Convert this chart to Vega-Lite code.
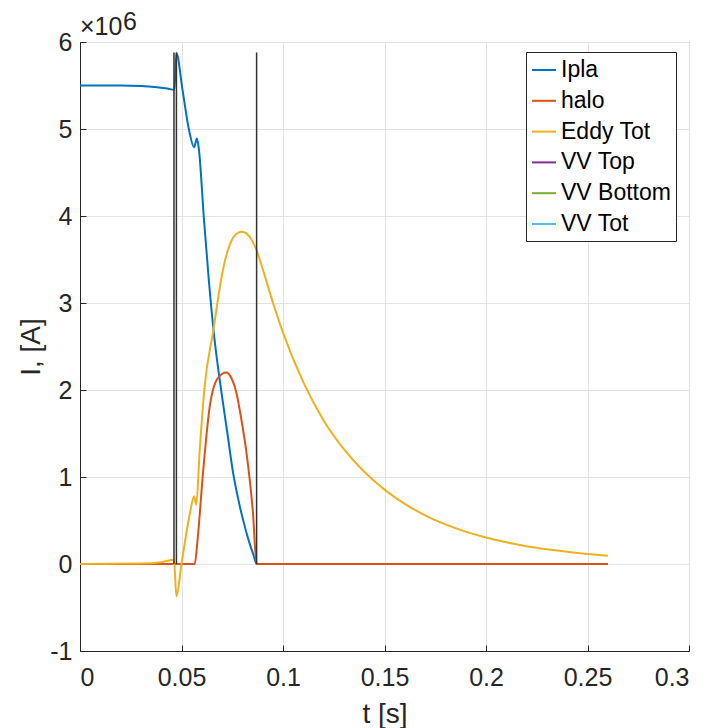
{
  "$schema": "https://vega.github.io/schema/vega-lite/v6.json",
  "width": 609,
  "height": 609,
  "autosize": "none",
  "padding": {"left": 80, "top": 42, "right": 22, "bottom": 77},
  "background": "white",
  "config": {
    "font": "Liberation Sans",
    "view": {"stroke": "#262626", "strokeWidth": 1},
    "axis": {
      "labelFont": "Liberation Sans",
      "titleFont": "Liberation Sans",
      "labelColor": "#262626",
      "titleColor": "#262626",
      "domainColor": "#262626",
      "tickColor": "#262626",
      "gridColor": "#e3e3e3",
      "gridWidth": 1,
      "labelFontSize": 25,
      "titleFontSize": 28,
      "titleFontWeight": "normal"
    }
  },
  "datasets": {
    "curves": [
      {"t": 0.0, "v": 5.50, "s": "Ipla"},
      {"t": 0.01, "v": 5.50, "s": "Ipla"},
      {"t": 0.02, "v": 5.50, "s": "Ipla"},
      {"t": 0.03, "v": 5.495, "s": "Ipla"},
      {"t": 0.038, "v": 5.48, "s": "Ipla"},
      {"t": 0.043, "v": 5.465, "s": "Ipla"},
      {"t": 0.0465, "v": 5.45, "s": "Ipla"},
      {"t": 0.0475, "v": 5.87, "s": "Ipla"},
      {"t": 0.0505, "v": 5.45, "s": "Ipla"},
      {"t": 0.0537, "v": 4.99, "s": "Ipla"},
      {"t": 0.0562, "v": 4.79, "s": "Ipla"},
      {"t": 0.0576, "v": 4.89, "s": "Ipla"},
      {"t": 0.0586, "v": 4.76, "s": "Ipla"},
      {"t": 0.061, "v": 3.98, "s": "Ipla"},
      {"t": 0.0635, "v": 3.25, "s": "Ipla"},
      {"t": 0.0659, "v": 2.66, "s": "Ipla"},
      {"t": 0.0697, "v": 1.97, "s": "Ipla"},
      {"t": 0.0725, "v": 1.52, "s": "Ipla"},
      {"t": 0.0754, "v": 1.05, "s": "Ipla"},
      {"t": 0.078, "v": 0.74, "s": "Ipla"},
      {"t": 0.0803, "v": 0.51, "s": "Ipla"},
      {"t": 0.0835, "v": 0.24, "s": "Ipla"},
      {"t": 0.0855, "v": 0.1, "s": "Ipla"},
      {"t": 0.0870, "v": 0.0, "s": "Ipla"},
      {"t": 0.26, "v": 0.0, "s": "Ipla"},
      {"t": 0.0, "v": 0.0, "s": "halo"},
      {"t": 0.0565, "v": 0.0, "s": "halo"},
      {"t": 0.058, "v": 0.3, "s": "halo"},
      {"t": 0.0606, "v": 1.05, "s": "halo"},
      {"t": 0.0639, "v": 1.81, "s": "halo"},
      {"t": 0.068, "v": 2.14, "s": "halo"},
      {"t": 0.0721, "v": 2.20, "s": "halo"},
      {"t": 0.0745, "v": 2.14, "s": "halo"},
      {"t": 0.077, "v": 1.97, "s": "halo"},
      {"t": 0.0795, "v": 1.66, "s": "halo"},
      {"t": 0.082, "v": 1.28, "s": "halo"},
      {"t": 0.0852, "v": 0.59, "s": "halo"},
      {"t": 0.0870, "v": 0.0, "s": "halo"},
      {"t": 0.26, "v": 0.0, "s": "halo"},
      {"t": 0.0, "v": 0.0, "s": "Eddy Tot"},
      {"t": 0.03, "v": 0.005, "s": "Eddy Tot"},
      {"t": 0.04, "v": 0.02, "s": "Eddy Tot"},
      {"t": 0.0463, "v": 0.05, "s": "Eddy Tot"},
      {"t": 0.0475, "v": -0.37, "s": "Eddy Tot"},
      {"t": 0.05, "v": 0.0, "s": "Eddy Tot"},
      {"t": 0.0542, "v": 0.59, "s": "Eddy Tot"},
      {"t": 0.0562, "v": 0.78, "s": "Eddy Tot"},
      {"t": 0.0573, "v": 0.68, "s": "Eddy Tot"},
      {"t": 0.0589, "v": 1.28, "s": "Eddy Tot"},
      {"t": 0.0614, "v": 2.04, "s": "Eddy Tot"},
      {"t": 0.0655, "v": 2.66, "s": "Eddy Tot"},
      {"t": 0.0704, "v": 3.38, "s": "Eddy Tot"},
      {"t": 0.073, "v": 3.62, "s": "Eddy Tot"},
      {"t": 0.0754, "v": 3.75, "s": "Eddy Tot"},
      {"t": 0.078, "v": 3.81, "s": "Eddy Tot"},
      {"t": 0.0798, "v": 3.82, "s": "Eddy Tot"},
      {"t": 0.082, "v": 3.80, "s": "Eddy Tot"},
      {"t": 0.0852, "v": 3.70, "s": "Eddy Tot"},
      {"t": 0.0869, "v": 3.61, "s": "Eddy Tot"},
      {"t": 0.09, "v": 3.39, "s": "Eddy Tot"},
      {"t": 0.0951, "v": 3.0, "s": "Eddy Tot"},
      {"t": 0.1, "v": 2.66, "s": "Eddy Tot"},
      {"t": 0.11, "v": 2.09, "s": "Eddy Tot"},
      {"t": 0.12, "v": 1.65, "s": "Eddy Tot"},
      {"t": 0.13, "v": 1.32, "s": "Eddy Tot"},
      {"t": 0.14, "v": 1.06, "s": "Eddy Tot"},
      {"t": 0.15, "v": 0.855, "s": "Eddy Tot"},
      {"t": 0.16, "v": 0.69, "s": "Eddy Tot"},
      {"t": 0.17, "v": 0.56, "s": "Eddy Tot"},
      {"t": 0.18, "v": 0.455, "s": "Eddy Tot"},
      {"t": 0.19, "v": 0.372, "s": "Eddy Tot"},
      {"t": 0.20, "v": 0.305, "s": "Eddy Tot"},
      {"t": 0.21, "v": 0.25, "s": "Eddy Tot"},
      {"t": 0.22, "v": 0.205, "s": "Eddy Tot"},
      {"t": 0.23, "v": 0.17, "s": "Eddy Tot"},
      {"t": 0.24, "v": 0.14, "s": "Eddy Tot"},
      {"t": 0.25, "v": 0.115, "s": "Eddy Tot"},
      {"t": 0.26, "v": 0.095, "s": "Eddy Tot"}
    ],
    "markers": [
      {"t": 0.0463, "y0": 0, "y1": 5.88},
      {"t": 0.0475, "y0": 0, "y1": 5.88},
      {"t": 0.0870, "y0": 0, "y1": 5.88}
    ],
    "exponent": [
      {"t": 0, "v": 6, "base": "×10", "power": "6"}
    ]
  },
  "layer": [
    {
      "data": {"name": "curves"},
      "mark": {"type": "line", "strokeWidth": 2, "clip": true, "interpolate": "monotone"},
      "encoding": {
        "x": {
          "field": "t", "type": "quantitative",
          "scale": {"domain": [0, 0.3], "nice": false},
          "axis": {
            "values": [0, 0.05, 0.1, 0.15, 0.2, 0.25, 0.3],
            "format": "~g",
            "title": "t [s]",
            "grid": true,
            "tickSize": -6,
            "labelBaseline": "middle",
            "labelPadding": 32,
            "titleBaseline": "middle",
            "titleY": 63
          }
        },
        "y": {
          "field": "v", "type": "quantitative",
          "scale": {"domain": [-1, 6], "nice": false, "zero": false},
          "axis": {
            "values": [-1, 0, 1, 2, 3, 4, 5, 6],
            "format": "d",
            "labelExpr": "replace(datum.label, '−', '-')",
            "title": "I, [A]",
            "grid": true,
            "tickSize": -6,
            "labelPadding": 14,
            "titleBaseline": "middle",
            "titleX": -49,
            "titleY": 304.5
          }
        },
        "color": {
          "field": "s", "type": "nominal",
          "scale": {
            "domain": ["Ipla", "halo", "Eddy Tot", "VV Top", "VV Bottom", "VV Tot"],
            "range": ["#0072BD", "#D95319", "#EDB120", "#7E2F8E", "#77AC30", "#4DBEEE"]
          },
          "legend": {
            "title": null,
            "orient": "none",
            "legendX": 446,
            "legendY": 10,
            "symbolType": "stroke",
            "symbolSize": 576,
            "symbolStrokeWidth": 2,
            "labelFontSize": 23,
            "labelFont": "Liberation Sans",
            "labelColor": "#000000",
            "rowPadding": 5.8,
            "labelOffset": 4,
            "padding": 5,
            "strokeColor": "#262626",
            "fillColor": "white",
            "cornerRadius": 0
          }
        },
        "order": {"field": "t", "type": "quantitative"}
      }
    },
    {
      "data": {"name": "markers"},
      "mark": {"type": "rule", "color": "#333333", "strokeWidth": 1.5},
      "encoding": {
        "x": {"field": "t", "type": "quantitative"},
        "y": {"field": "y0", "type": "quantitative"},
        "y2": {"field": "y1"}
      }
    },
    {
      "data": {"name": "exponent"},
      "mark": {"type": "text", "align": "left", "baseline": "alphabetic", "dx": 0, "dy": -7, "fontSize": 25, "font": "Liberation Sans", "color": "#262626"},
      "encoding": {
        "x": {"field": "t", "type": "quantitative"},
        "y": {"field": "v", "type": "quantitative"},
        "text": {"field": "base"}
      }
    },
    {
      "data": {"name": "exponent"},
      "mark": {"type": "text", "align": "left", "baseline": "alphabetic", "dx": 43, "dy": -12, "fontSize": 25, "font": "Liberation Sans", "color": "#262626"},
      "encoding": {
        "x": {"field": "t", "type": "quantitative"},
        "y": {"field": "v", "type": "quantitative"},
        "text": {"field": "power"}
      }
    }
  ]
}
